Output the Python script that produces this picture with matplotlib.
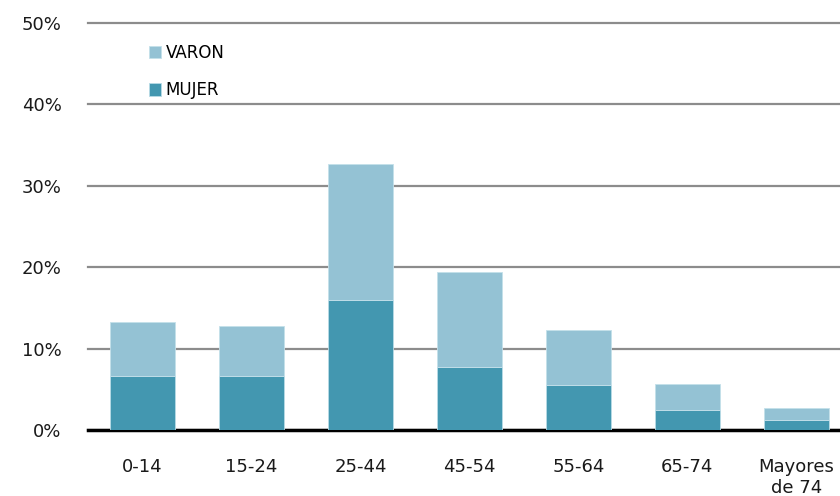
import matplotlib
matplotlib.use("Agg")
import matplotlib.pyplot as plt
import numpy as np

# age groups and share (%) by sex
grupos = ["0-14", "15-24", "25-44", "45-54", "55-64", "65-74", "Mayores\nde 74"]
mujer = [6.6, 6.6, 16.0, 7.7, 5.5, 2.5, 1.25]
varon = [6.7, 6.2, 16.7, 11.7, 6.8, 3.2, 1.5]

c_varon = "#94c2d4"
c_mujer = "#4397b0"

plt.rcParams['font.family'] = ['DejaVu Sans']

fig = plt.figure(figsize=(8.4, 4.96), dpi=100)
ax = fig.add_axes([88/840, 66/496, 752/840, 407/496])

x = np.arange(len(grupos))
b1 = ax.bar(x, mujer, width=0.59, color=c_mujer, edgecolor="#b8dbe6", linewidth=0.6, zorder=3, label="MUJER")
b2 = ax.bar(x, varon, width=0.59, bottom=mujer, color=c_varon, edgecolor="#c4e0ea", linewidth=0.6, zorder=3, label="VARON")

ax.set_xlim(-0.5, 6.4)
ax.set_ylim(0, 50)
ax.set_yticks(np.arange(0, 51, 10))
ax.set_yticklabels([f"{v}%" for v in range(0, 51, 10)])
ax.set_xticks(x)
ax.set_xticklabels(grupos, linespacing=1.2)

ax.yaxis.grid(True, color="#8c8c8c", linewidth=1.6, zorder=0)
for gl in ax.get_ygridlines():
    gl.set_clip_on(False)
ax.set_axisbelow(True)
for s in ["top", "right", "left"]:
    ax.spines[s].set_visible(False)
ax.spines["bottom"].set_linewidth(2.5)
ax.spines["bottom"].set_color("black")
ax.tick_params(axis="both", length=0, labelsize=13, colors="#1a1a1a")
ax.tick_params(axis="y", pad=19)
ax.tick_params(axis="x", pad=20)

leg = ax.legend([b2, b1], ["VARON", "MUJER"], loc="upper left", bbox_to_anchor=(0.061, 0.985),
                frameon=False, fontsize=12, handlelength=0.75, handleheight=0.75,
                handletextpad=0.25, labelspacing=1.15)

fig.savefig("out.png", dpi=100)
